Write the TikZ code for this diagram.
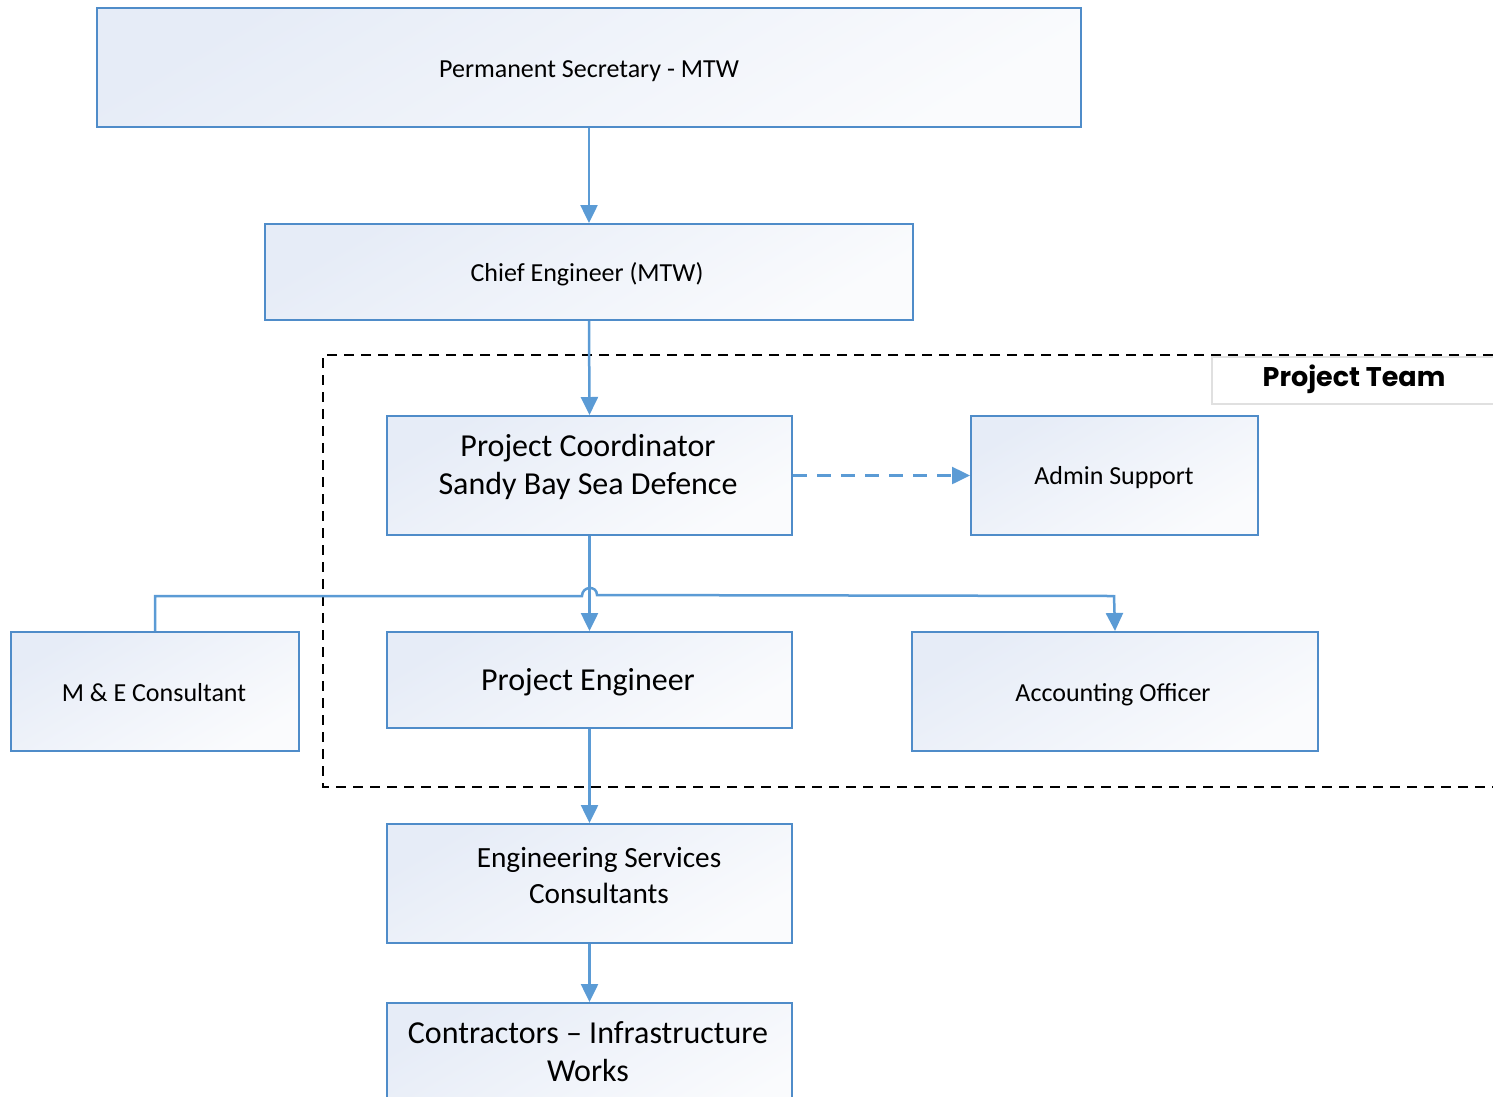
\documentclass[tikz,border=0pt]{standalone}
\usepackage{fontspec}
\setmainfont{Carlito}
\newfontfamily\teamfont{Poppins}
\usetikzlibrary{arrows.meta}
\definecolor{lineblue}{HTML}{5B9BD5}
\definecolor{boxedge}{HTML}{4F8CC9}
\definecolor{shadeA}{HTML}{E6ECF7}
\definecolor{shadeB}{HTML}{FAFBFD}
\begin{document}
\begin{tikzpicture}[x=1pt,y=-1pt,
  box/.style={draw=boxedge,line width=2pt,shading=axis,left color=shadeB,right color=shadeA,shading angle=-150,
    inner sep=0pt},
  lbl/.style={align=center,inner sep=0pt,font=\fontsize{26}{32}\selectfont},
  bigtext/.style={font=\fontsize{32}{38}\selectfont},
  midtext/.style={font=\fontsize{29.3}{36}\selectfont},
  conn/.style={draw=lineblue,line width=2.5pt},
  arr/.style={conn,-{Triangle[length=18pt,width=17pt]}},
]
\useasboundingbox (0,0) rectangle (1493,1096);
% dashed project team frame
\draw[dashed,line width=1.5pt,dash pattern=on 10pt off 7pt] (1493,355) -- (323,355) -- (323,787) -- (1493,787);
\node[draw=black!12,line width=1.5pt,fill=white,minimum width=300pt,minimum height=47pt,anchor=north west,inner sep=0pt] (teambox) at (1211,356) {};
\node[font=\teamfont\bfseries\fontsize{27}{30}\selectfont] (team) at (1354,379) {Project Team};

\node[box,minimum width=984pt,minimum height=119pt] (ps) at (589,67.5) {};
\node[box,minimum width=648pt,minimum height=96pt] (ce) at (589,272) {};
\node[box,minimum width=405pt,minimum height=119pt] (pc) at (589.5,475.5) {};
\node[box,minimum width=287pt,minimum height=119pt] (adm) at (1114.5,475.5) {};
\node[box,minimum width=288pt,minimum height=119pt] (me) at (155,691.5) {};
\node[box,minimum width=405pt,minimum height=96pt] (pe) at (589.5,680) {};
\node[box,minimum width=406pt,minimum height=119pt] (ao) at (1115,691.5) {};
\node[box,minimum width=405pt,minimum height=119pt] (esc) at (589.5,883.5) {};
\node[box,minimum width=405pt,minimum height=119pt] (con) at (589.5,1062.5) {};

\node[lbl] (pstxt) at (589,71.5) {Permanent Secretary - MTW};
\node[lbl] (cetxt) at (587,274) {Chief Engineer (MTW)};
\node[lbl,bigtext] (pctxt) at (588,467) {Project Coordinator\\Sandy Bay Sea Defence};
\node[lbl] (admtxt) at (1114,478) {Admin Support};
\node[lbl] (metxt) at (154,692.5) {M \& E Consultant};
\node[lbl,bigtext] (petxt) at (588,682) {Project Engineer};
\node[lbl] (aotxt) at (1113,694.5) {Accounting Officer};
\node[lbl,midtext] (esctxt) at (599,876) {Engineering Services\\Consultants};
\node[lbl,bigtext] (contxt) at (588,1052) {Contractors -- Infrastructure\\Works};

% connectors
\draw[arr] (ps.south) -- (ce.north);
\draw[arr] (ce.south) -- (pc.north);
\draw[arr] (pc.south) -- (pe.north);
\draw[arr] (pe.south) -- (esc.north);
\draw[arr] (esc.south) -- (con.north);
\draw[arr,dashed,dash pattern=on 14pt off 10pt] (pc.east) -- (adm.west);
\coordinate (hl) at (582,596);
\coordinate (hr) at (597,595);
\draw[conn] (me.north) -- (me.north |- hl) -- (hl) .. controls (582,586) and (597,585) .. (hr) -- (1114,596);
\draw[arr] (1114,595) -- (ao.north);
\end{tikzpicture}
\end{document}
